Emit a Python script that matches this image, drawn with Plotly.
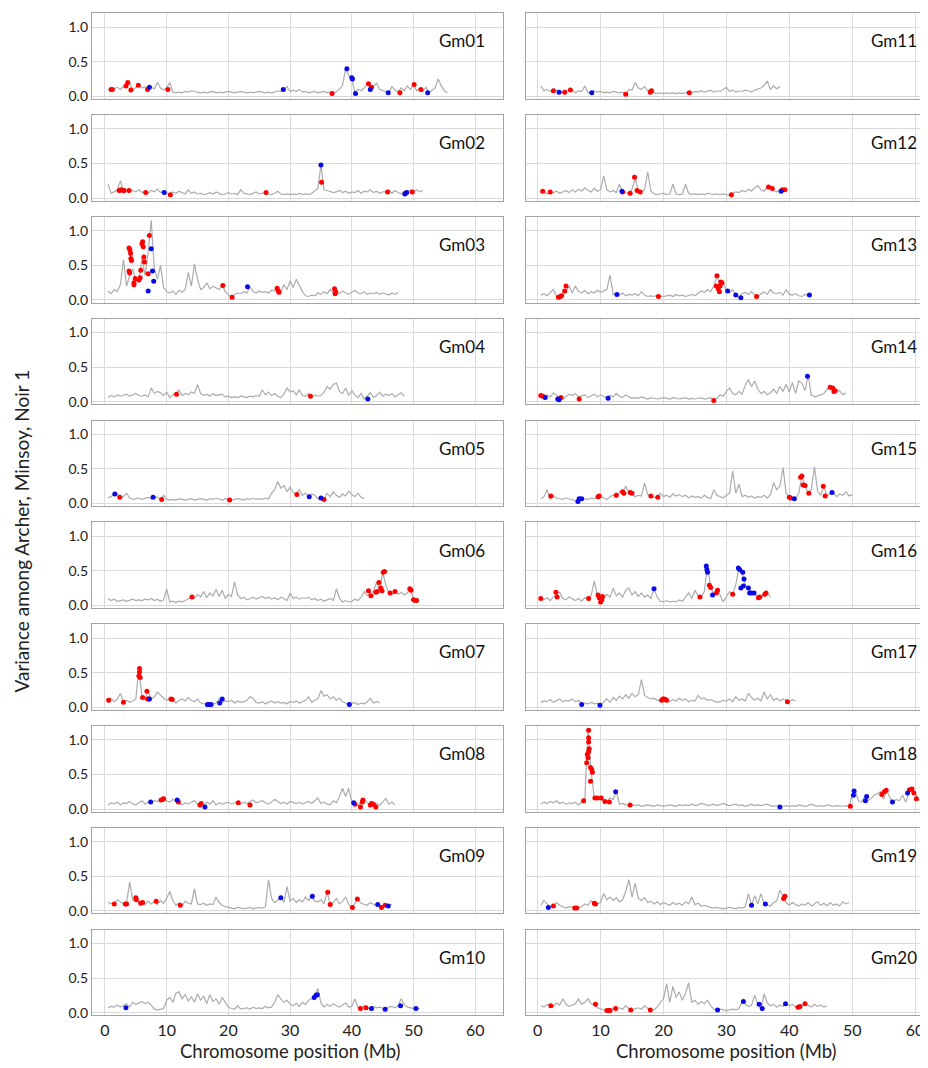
import plotly.graph_objects as go

# ---------------- data (variance values, 0.5 Mb steps starting at 0.5 Mb) ----------------
LINE_START = 0.5
LINE_STEP = 0.5
CHROMS = ["Gm01", "Gm02", "Gm03", "Gm04", "Gm05", "Gm06", "Gm07", "Gm08", "Gm09", "Gm10",
          "Gm11", "Gm12", "Gm13", "Gm14", "Gm15", "Gm16", "Gm17", "Gm18", "Gm19", "Gm20"]
X_TICKS = [0, 10, 20, 30, 40, 50, 60]
Y_TICKS = [0.0, 0.5, 1.0]
Y_TICK_TEXT = ["0.0", "0.5", "1.0"]

GM01_LINE = [0.10, 0.09, 0.11, 0.13, 0.10, 0.14, 0.16, 0.20, 0.09, 0.12,
             0.16, 0.12, 0.14, 0.10, 0.13, 0.11, 0.20, 0.12, 0.09, 0.12,
             0.20, 0.06, 0.05, 0.06, 0.05, 0.07, 0.06, 0.08, 0.07, 0.06,
             0.05, 0.06, 0.05, 0.06, 0.07, 0.05, 0.06, 0.05, 0.06, 0.07,
             0.06, 0.05, 0.06, 0.07, 0.06, 0.05, 0.06, 0.05, 0.06, 0.07,
             0.06, 0.05, 0.06, 0.05, 0.06, 0.08, 0.07, 0.10, 0.14, 0.07,
             0.09, 0.07, 0.10, 0.06, 0.07, 0.05, 0.06, 0.07, 0.05, 0.06,
             0.07, 0.05, 0.06, 0.04, 0.07, 0.10, 0.16, 0.40, 0.30, 0.26,
             0.05, 0.10, 0.08, 0.12, 0.18, 0.11, 0.14, 0.19, 0.10, 0.08,
             0.06, 0.05, 0.14, 0.09, 0.06, 0.12, 0.08, 0.15, 0.10, 0.17,
             0.08, 0.11, 0.07, 0.13, 0.05, 0.09, 0.12, 0.25, 0.15, 0.08,
             0.05]
GM01_RED = [(1.0, 0.10), (1.2, 0.10), (3.4, 0.15), (3.7, 0.20), (4.2, 0.09), (5.4, 0.16), (6.9, 0.10),
            (10.2, 0.10), (36.8, 0.04), (42.7, 0.18), (43.2, 0.13), (47.8, 0.05), (50.1, 0.17), (51.2, 0.10)]
GM01_BLUE = [(7.2, 0.13), (28.9, 0.10), (39.2, 0.40), (40.0, 0.27), (40.1, 0.25), (40.6, 0.04),
             (43.0, 0.10), (45.9, 0.05), (52.3, 0.05)]

GM02_LINE = [0.20, 0.07, 0.09, 0.12, 0.25, 0.11, 0.12, 0.10, 0.11, 0.09,
             0.12, 0.08, 0.10, 0.07, 0.11, 0.09, 0.13, 0.08, 0.10, 0.07,
             0.05, 0.09, 0.07, 0.10, 0.08, 0.06, 0.12, 0.07, 0.09, 0.06,
             0.07, 0.05, 0.06, 0.08, 0.06, 0.09, 0.07, 0.05, 0.06, 0.08,
             0.06, 0.07, 0.05, 0.12, 0.07, 0.06, 0.05, 0.07, 0.09, 0.06,
             0.07, 0.08, 0.06, 0.05, 0.07, 0.10, 0.06, 0.05, 0.06, 0.05,
             0.06, 0.05, 0.07, 0.05, 0.06, 0.05, 0.07, 0.10, 0.14, 0.48,
             0.12, 0.11, 0.10, 0.08, 0.09, 0.11, 0.08, 0.10, 0.07, 0.09,
             0.08, 0.11, 0.07, 0.10, 0.09, 0.12, 0.08, 0.10, 0.07, 0.09,
             0.09, 0.12, 0.07, 0.11, 0.08, 0.06, 0.10, 0.08, 0.12, 0.09,
             0.12, 0.09, 0.11]
GM02_RED = [(2.3, 0.11), (2.6, 0.12), (2.9, 0.11), (3.1, 0.11), (3.9, 0.11), (6.6, 0.08), (10.6, 0.05),
            (26.1, 0.08), (35.1, 0.23), (45.8, 0.09), (48.7, 0.07), (49.8, 0.09)]
GM02_BLUE = [(9.6, 0.08), (35.0, 0.48), (48.6, 0.06), (48.9, 0.08)]

GM03_LINE = [0.13, 0.09, 0.15, 0.12, 0.22, 0.58, 0.20, 0.35, 0.45, 0.28,
             0.30, 0.60, 0.35, 0.70, 1.15, 0.45, 0.30, 0.50, 0.18, 0.12,
             0.10, 0.13, 0.08, 0.14, 0.11, 0.15, 0.40, 0.20, 0.52, 0.30,
             0.15, 0.18, 0.25, 0.16, 0.20, 0.17, 0.15, 0.21, 0.12, 0.07,
             0.05, 0.08, 0.10, 0.09, 0.12, 0.10, 0.19, 0.12, 0.10, 0.13,
             0.11, 0.12, 0.10, 0.14, 0.13, 0.17, 0.12, 0.22, 0.15, 0.28,
             0.18, 0.30, 0.20, 0.12, 0.06, 0.05, 0.07, 0.06, 0.10, 0.08,
             0.12, 0.09, 0.15, 0.10, 0.12, 0.09, 0.13, 0.10, 0.08, 0.11,
             0.14, 0.10, 0.09, 0.12, 0.08, 0.10, 0.09, 0.11, 0.08, 0.10,
             0.09, 0.07, 0.10, 0.08, 0.11]
GM03_RED = [(3.9, 0.75), (4.05, 0.72), (4.2, 0.60), (4.3, 0.57), (4.15, 0.67), (3.9, 0.42), (4.0, 0.39),
            (4.7, 0.25), (4.7, 0.22), (4.9, 0.31), (5.5, 0.29), (5.7, 0.32), (5.8, 0.43), (6.0, 0.81),
            (6.1, 0.84), (6.2, 0.77), (6.3, 0.62), (6.4, 0.55), (7.0, 0.38), (7.2, 0.93),
            (19.1, 0.21), (20.6, 0.04), (27.9, 0.17), (28.1, 0.13), (28.2, 0.11), (37.2, 0.16),
            (37.3, 0.09), (37.4, 0.12)]
GM03_BLUE = [(7.5, 0.74), (7.7, 0.42), (7.9, 0.27), (7.0, 0.13), (23.1, 0.19)]

GM04_LINE = [0.06, 0.09, 0.07, 0.10, 0.08, 0.09, 0.11, 0.08, 0.10, 0.12,
             0.09, 0.08, 0.10, 0.07, 0.20, 0.12, 0.15, 0.13, 0.09, 0.14,
             0.06, 0.10, 0.12, 0.17, 0.09, 0.12, 0.10, 0.14, 0.12, 0.25,
             0.12, 0.09, 0.11, 0.08, 0.12, 0.09, 0.10, 0.11, 0.07, 0.08,
             0.06, 0.07, 0.06, 0.08, 0.07, 0.06, 0.08, 0.07, 0.09, 0.08,
             0.17, 0.10, 0.14, 0.09, 0.12, 0.08, 0.06, 0.11, 0.20, 0.14,
             0.16, 0.10, 0.17, 0.09, 0.08, 0.12, 0.07, 0.10, 0.08, 0.09,
             0.14, 0.22, 0.18, 0.25, 0.27, 0.15, 0.12, 0.20, 0.09, 0.16,
             0.10, 0.06, 0.12, 0.04, 0.08, 0.13, 0.06, 0.09, 0.14, 0.08,
             0.11, 0.09, 0.12, 0.07, 0.10, 0.13, 0.08]
GM04_RED = [(11.6, 0.11), (33.3, 0.08)]
GM04_BLUE = [(42.6, 0.04)]

GM05_LINE = [0.08, 0.10, 0.15, 0.14, 0.09, 0.10, 0.15, 0.08, 0.06, 0.07,
             0.08, 0.06, 0.07, 0.09, 0.07, 0.10, 0.09, 0.06, 0.12, 0.06,
             0.05, 0.06, 0.05, 0.07, 0.06, 0.05, 0.06, 0.07, 0.05, 0.06,
             0.07, 0.06, 0.05, 0.07, 0.06, 0.08, 0.06, 0.05, 0.07, 0.06,
             0.05, 0.06, 0.07, 0.06, 0.05, 0.07, 0.06, 0.08, 0.06, 0.07,
             0.06, 0.08, 0.07, 0.15, 0.20, 0.32, 0.22, 0.26, 0.17, 0.24,
             0.16, 0.14, 0.20, 0.12, 0.15, 0.10, 0.14, 0.12, 0.07, 0.08,
             0.06, 0.15, 0.10, 0.17, 0.12, 0.09, 0.14, 0.11, 0.18, 0.13,
             0.10, 0.15, 0.09, 0.07]
GM05_RED = [(2.4, 0.09), (9.2, 0.06), (20.2, 0.05), (31.1, 0.13), (35.5, 0.06)]
GM05_BLUE = [(1.6, 0.14), (7.8, 0.09), (33.1, 0.10), (35.0, 0.08)]

GM06_LINE = [0.10, 0.07, 0.09, 0.06, 0.07, 0.08, 0.06, 0.07, 0.09, 0.07,
             0.08, 0.07, 0.09, 0.08, 0.10, 0.07, 0.09, 0.06, 0.08, 0.24,
             0.05, 0.06, 0.04, 0.06, 0.05, 0.07, 0.09, 0.12, 0.10, 0.16,
             0.12, 0.20, 0.11, 0.18, 0.14, 0.23, 0.13, 0.22, 0.10, 0.16,
             0.13, 0.34, 0.15, 0.10, 0.12, 0.08, 0.10, 0.12, 0.09, 0.11,
             0.13, 0.10, 0.12, 0.09, 0.11, 0.08, 0.12, 0.10, 0.07, 0.18,
             0.10, 0.12, 0.09, 0.11, 0.10, 0.12, 0.08, 0.10, 0.07, 0.09,
             0.06, 0.08, 0.10, 0.07, 0.24, 0.10, 0.05, 0.07, 0.05, 0.06,
             0.09, 0.07, 0.12, 0.20, 0.14, 0.18, 0.20, 0.33, 0.22, 0.48,
             0.30, 0.18, 0.15, 0.20, 0.16, 0.19, 0.15, 0.18, 0.24, 0.08,
             0.07]
GM06_RED = [(14.1, 0.12), (42.7, 0.21), (43.1, 0.14), (43.9, 0.19), (44.1, 0.20), (44.4, 0.33),
            (44.7, 0.25), (44.9, 0.21), (45.1, 0.48), (45.3, 0.49), (46.2, 0.18), (47.0, 0.20),
            (49.4, 0.24), (49.6, 0.22), (50.0, 0.08), (50.3, 0.07), (50.5, 0.07)]
GM06_BLUE = []

GM07_LINE = [0.10, 0.13, 0.08, 0.12, 0.20, 0.08, 0.10, 0.07, 0.09, 0.12,
             0.57, 0.14, 0.12, 0.23, 0.12, 0.15, 0.22, 0.17, 0.13, 0.10,
             0.12, 0.11, 0.06, 0.10, 0.12, 0.09, 0.14, 0.10, 0.08, 0.12,
             0.06, 0.05, 0.04, 0.04, 0.05, 0.06, 0.12, 0.07, 0.09, 0.08,
             0.10, 0.06, 0.09, 0.07, 0.08, 0.10, 0.15, 0.13, 0.07, 0.06,
             0.08, 0.05, 0.07, 0.09, 0.06, 0.08, 0.06, 0.07, 0.05, 0.08,
             0.07, 0.09, 0.06, 0.08, 0.10, 0.15, 0.07, 0.10, 0.12, 0.24,
             0.16, 0.18, 0.12, 0.15, 0.10, 0.13, 0.08, 0.06, 0.04, 0.05,
             0.07, 0.04, 0.06, 0.05, 0.08, 0.13, 0.06, 0.08, 0.07]
GM07_RED = [(0.6, 0.10), (3.0, 0.07), (5.6, 0.56), (5.6, 0.51), (5.5, 0.45), (5.7, 0.43), (6.1, 0.14),
            (6.8, 0.23), (6.9, 0.12), (7.1, 0.12), (10.7, 0.12), (10.9, 0.11)]
GM07_BLUE = [(7.2, 0.12), (16.6, 0.04), (16.9, 0.04), (17.2, 0.04), (18.6, 0.06), (19.0, 0.12), (39.6, 0.04)]

GM08_LINE = [0.06, 0.09, 0.07, 0.10, 0.06, 0.09, 0.08, 0.11, 0.07, 0.06,
             0.09, 0.12, 0.07, 0.10, 0.09, 0.12, 0.11, 0.13, 0.15, 0.12,
             0.10, 0.14, 0.10, 0.08, 0.06, 0.09, 0.07, 0.10, 0.12, 0.07,
             0.08, 0.05, 0.10, 0.07, 0.12, 0.06, 0.09, 0.07, 0.08, 0.10,
             0.07, 0.09, 0.11, 0.07, 0.10, 0.08, 0.11, 0.13, 0.09, 0.10,
             0.12, 0.09, 0.07, 0.10, 0.14, 0.11, 0.08, 0.10, 0.07, 0.11,
             0.09, 0.08, 0.10, 0.07, 0.09, 0.11, 0.08, 0.12, 0.16, 0.08,
             0.10, 0.07, 0.06, 0.12, 0.09, 0.18, 0.30, 0.18, 0.30, 0.10,
             0.07, 0.05, 0.11, 0.13, 0.09, 0.07, 0.06, 0.08, 0.05, 0.10,
             0.15, 0.07, 0.10, 0.06]
GM08_RED = [(9.1, 0.13), (9.4, 0.14), (9.5, 0.15), (11.9, 0.10), (15.4, 0.06), (15.6, 0.08), (21.6, 0.09),
            (23.5, 0.06), (40.5, 0.07), (41.4, 0.03), (41.7, 0.10), (41.8, 0.13), (43.0, 0.06),
            (43.2, 0.08), (43.5, 0.07), (43.9, 0.03)]
GM08_BLUE = [(7.4, 0.10), (11.7, 0.13), (16.2, 0.03), (40.3, 0.09)]

GM09_LINE = [0.12, 0.10, 0.09, 0.16, 0.13, 0.10, 0.11, 0.42, 0.15, 0.19,
             0.11, 0.12, 0.09, 0.14, 0.10, 0.13, 0.09, 0.15, 0.11, 0.18,
             0.28, 0.15, 0.08, 0.12, 0.07, 0.14, 0.11, 0.10, 0.32, 0.10,
             0.09, 0.11, 0.08, 0.10, 0.09, 0.20, 0.12, 0.08, 0.06, 0.05,
             0.04, 0.03, 0.05, 0.04, 0.03, 0.04, 0.05, 0.03, 0.04, 0.05,
             0.04, 0.06, 0.45, 0.18, 0.12, 0.15, 0.19, 0.12, 0.35, 0.14,
             0.18, 0.12, 0.16, 0.13, 0.20, 0.15, 0.21, 0.14, 0.13, 0.16,
             0.10, 0.27, 0.09, 0.12, 0.18, 0.10, 0.14, 0.20, 0.09, 0.05,
             0.12, 0.17, 0.11, 0.10, 0.08, 0.12, 0.09, 0.07, 0.09, 0.05,
             0.08, 0.07, 0.10]
GM09_RED = [(1.5, 0.10), (3.3, 0.10), (3.5, 0.10), (5.0, 0.19), (5.1, 0.16), (5.8, 0.11), (6.1, 0.12),
            (8.3, 0.14), (12.2, 0.08), (36.1, 0.27), (36.5, 0.09), (40.1, 0.05), (40.9, 0.17),
            (44.8, 0.05), (45.4, 0.08)]
GM09_BLUE = [(28.5, 0.19), (33.6, 0.21), (44.2, 0.09), (45.9, 0.07)]

GM10_LINE = [0.07, 0.09, 0.08, 0.11, 0.08, 0.10, 0.13, 0.08, 0.15, 0.12,
             0.14, 0.16, 0.13, 0.15, 0.11, 0.05, 0.04, 0.05, 0.06, 0.18,
             0.22, 0.15, 0.28, 0.30, 0.20, 0.26, 0.17, 0.23, 0.15, 0.27,
             0.18, 0.24, 0.13, 0.26, 0.16, 0.20, 0.12, 0.22, 0.15, 0.08,
             0.06, 0.05, 0.10, 0.05, 0.06, 0.07, 0.05, 0.08, 0.06, 0.07,
             0.06, 0.09, 0.07, 0.08, 0.15, 0.26, 0.20, 0.15, 0.18, 0.12,
             0.10, 0.14, 0.09, 0.15, 0.12, 0.18, 0.20, 0.24, 0.35, 0.14,
             0.08, 0.12, 0.09, 0.13, 0.10, 0.08, 0.11, 0.14, 0.08, 0.09,
             0.20, 0.07, 0.06, 0.10, 0.07, 0.06, 0.09, 0.07, 0.08, 0.06,
             0.05, 0.08, 0.09, 0.07, 0.10, 0.20, 0.12, 0.08, 0.07, 0.06,
             0.05, 0.06]
GM10_RED = [(41.4, 0.06), (42.3, 0.07)]
GM10_BLUE = [(3.4, 0.07), (33.9, 0.22), (34.2, 0.25), (34.4, 0.26), (43.2, 0.06), (45.4, 0.05),
             (47.9, 0.10), (50.4, 0.06)]

GM11_LINE = [0.15, 0.08, 0.10, 0.07, 0.08, 0.09, 0.07, 0.06, 0.08, 0.09,
             0.10, 0.05, 0.08, 0.07, 0.15, 0.05, 0.07, 0.08, 0.06, 0.07,
             0.05, 0.06, 0.05, 0.07, 0.06, 0.05, 0.06, 0.03, 0.10, 0.09,
             0.20, 0.12, 0.10, 0.14, 0.08, 0.09, 0.05, 0.04, 0.05, 0.04,
             0.05, 0.04, 0.05, 0.04, 0.05, 0.04, 0.05, 0.06, 0.05, 0.07,
             0.06, 0.08, 0.06, 0.07, 0.09, 0.06, 0.08, 0.07, 0.10, 0.13,
             0.07, 0.09, 0.06, 0.08, 0.07, 0.09, 0.08, 0.06, 0.09, 0.10,
             0.12, 0.16, 0.22, 0.10, 0.15, 0.11, 0.14]
GM11_RED = [(2.5, 0.08), (4.3, 0.06), (5.2, 0.09), (14.0, 0.03), (17.9, 0.06), (18.1, 0.08), (24.1, 0.05)]
GM11_BLUE = [(3.4, 0.06), (8.6, 0.05)]

GM12_LINE = [0.07, 0.10, 0.06, 0.09, 0.08, 0.10, 0.07, 0.09, 0.11, 0.08,
             0.12, 0.09, 0.13, 0.10, 0.15, 0.11, 0.09, 0.14, 0.10, 0.12,
             0.32, 0.12, 0.09, 0.11, 0.08, 0.20, 0.10, 0.08, 0.07, 0.13,
             0.28, 0.11, 0.09, 0.12, 0.38, 0.10, 0.06, 0.05, 0.06, 0.07,
             0.05, 0.06, 0.20, 0.06, 0.05, 0.06, 0.20, 0.07, 0.05, 0.06,
             0.05, 0.06, 0.05, 0.07, 0.06, 0.05, 0.06, 0.05, 0.06, 0.05,
             0.04, 0.07, 0.09, 0.08, 0.11, 0.09, 0.13, 0.10, 0.15, 0.18,
             0.12, 0.10, 0.16, 0.14, 0.12, 0.09, 0.13, 0.10, 0.12]
GM12_RED = [(0.8, 0.10), (2.0, 0.09), (13.5, 0.09), (14.7, 0.07), (15.4, 0.30), (15.8, 0.11), (16.3, 0.09),
            (30.8, 0.05), (36.7, 0.16), (37.3, 0.14), (38.9, 0.12), (39.3, 0.12)]
GM12_BLUE = [(13.4, 0.10), (38.7, 0.10)]

GM13_LINE = [0.07, 0.09, 0.06, 0.10, 0.15, 0.05, 0.04, 0.06, 0.13, 0.20,
             0.10, 0.20, 0.12, 0.10, 0.14, 0.09, 0.12, 0.10, 0.14, 0.11,
             0.13, 0.15, 0.36, 0.08, 0.09, 0.07, 0.10, 0.06, 0.08, 0.07,
             0.09, 0.06, 0.12, 0.07, 0.05, 0.06, 0.05, 0.07, 0.06, 0.05,
             0.06, 0.07, 0.05, 0.08, 0.06, 0.07, 0.05, 0.06, 0.08, 0.06,
             0.10, 0.13, 0.11, 0.15, 0.12, 0.20, 0.35, 0.22, 0.26, 0.13,
             0.10, 0.15, 0.07, 0.04, 0.09, 0.11, 0.08, 0.12, 0.07, 0.05,
             0.09, 0.12, 0.08, 0.15, 0.10, 0.09, 0.11, 0.07, 0.15, 0.08,
             0.07, 0.09, 0.06, 0.05, 0.08, 0.07, 0.09]
GM13_RED = [(3.3, 0.04), (3.6, 0.05), (3.8, 0.06), (4.3, 0.13), (4.5, 0.20), (19.2, 0.05), (28.5, 0.35),
            (28.4, 0.20), (28.7, 0.16), (28.9, 0.12), (29.1, 0.26), (29.3, 0.25), (29.0, 0.20), (34.8, 0.05)]
GM13_BLUE = [(12.6, 0.08), (30.2, 0.13), (31.5, 0.07), (32.3, 0.03), (43.2, 0.07)]

GM14_LINE = [0.09, 0.08, 0.10, 0.07, 0.13, 0.09, 0.06, 0.04, 0.08, 0.11,
             0.09, 0.12, 0.07, 0.08, 0.10, 0.06, 0.09, 0.11, 0.07, 0.10,
             0.08, 0.06, 0.09, 0.07, 0.12, 0.08, 0.06, 0.10, 0.07, 0.05,
             0.06, 0.05, 0.07, 0.05, 0.04, 0.06, 0.05, 0.04, 0.05, 0.06,
             0.05, 0.04, 0.06, 0.05, 0.04, 0.05, 0.06, 0.04, 0.05, 0.04,
             0.05, 0.06, 0.04, 0.05, 0.06, 0.02, 0.05, 0.10, 0.08, 0.15,
             0.20, 0.12, 0.10, 0.15, 0.11, 0.24, 0.32, 0.22, 0.30, 0.18,
             0.12, 0.15, 0.10, 0.13, 0.18, 0.12, 0.22, 0.15, 0.25, 0.14,
             0.28, 0.12, 0.30, 0.27, 0.16, 0.38, 0.10, 0.07, 0.08, 0.10,
             0.12, 0.18, 0.21, 0.20, 0.15, 0.16, 0.10, 0.13]
GM14_RED = [(0.5, 0.09), (0.8, 0.08), (3.7, 0.06), (6.6, 0.04), (28.0, 0.02), (46.5, 0.21), (46.9, 0.20),
            (47.1, 0.15), (47.3, 0.16)]
GM14_BLUE = [(1.2, 0.06), (3.2, 0.04), (3.4, 0.03), (11.2, 0.05), (42.9, 0.37)]

GM15_LINE = [0.07, 0.10, 0.20, 0.06, 0.11, 0.08, 0.07, 0.06, 0.08, 0.07,
             0.05, 0.04, 0.03, 0.07, 0.07, 0.06, 0.08, 0.07, 0.10, 0.11,
             0.08, 0.06, 0.10, 0.12, 0.09, 0.17, 0.15, 0.25, 0.16, 0.15,
             0.10, 0.12, 0.11, 0.30, 0.13, 0.11, 0.09, 0.09, 0.15, 0.10,
             0.12, 0.09, 0.14, 0.11, 0.13, 0.10, 0.12, 0.08, 0.11, 0.09,
             0.10, 0.08, 0.12, 0.09, 0.07, 0.20, 0.12, 0.10, 0.08, 0.12,
             0.15, 0.47, 0.15, 0.28, 0.10, 0.12, 0.09, 0.11, 0.08, 0.10,
             0.09, 0.12, 0.08, 0.13, 0.30, 0.20, 0.25, 0.52, 0.15, 0.09,
             0.08, 0.07, 0.15, 0.40, 0.26, 0.15, 0.20, 0.53, 0.18, 0.12,
             0.25, 0.11, 0.15, 0.16, 0.10, 0.14, 0.12, 0.17, 0.11, 0.13]
GM15_RED = [(2.1, 0.11), (9.6, 0.10), (9.8, 0.11), (12.5, 0.12), (13.5, 0.17), (13.7, 0.15), (14.7, 0.16),
            (15.0, 0.15), (18.0, 0.11), (19.1, 0.09), (40.0, 0.09), (40.2, 0.08), (41.8, 0.38),
            (42.0, 0.40), (42.2, 0.27), (42.5, 0.26), (43.1, 0.15), (45.4, 0.25), (45.7, 0.11)]
GM15_BLUE = [(6.4, 0.03), (6.6, 0.07), (7.0, 0.07), (40.8, 0.07), (46.8, 0.16)]

GM16_LINE = [0.10, 0.08, 0.11, 0.07, 0.12, 0.15, 0.19, 0.10, 0.08, 0.12,
             0.09, 0.07, 0.10, 0.06, 0.11, 0.10, 0.14, 0.35, 0.15, 0.12,
             0.10, 0.16, 0.12, 0.25, 0.14, 0.18, 0.12, 0.22, 0.25, 0.15,
             0.20, 0.13, 0.18, 0.12, 0.15, 0.10, 0.24, 0.12, 0.06, 0.05,
             0.07, 0.05, 0.06, 0.05, 0.08, 0.06, 0.12, 0.18, 0.10, 0.22,
             0.14, 0.12, 0.20, 0.57, 0.27, 0.15, 0.22, 0.15, 0.05, 0.12,
             0.20, 0.16, 0.30, 0.54, 0.48, 0.30, 0.25, 0.18, 0.18, 0.11,
             0.10, 0.16, 0.18, 0.12]
GM16_RED = [(0.5, 0.10), (2.9, 0.19), (3.1, 0.12), (8.1, 0.10), (9.6, 0.15), (9.8, 0.11), (10.0, 0.05),
            (10.2, 0.08), (10.3, 0.13), (25.8, 0.12), (27.3, 0.29), (27.5, 0.26), (28.4, 0.18),
            (28.6, 0.22), (31.0, 0.16), (35.1, 0.11), (35.3, 0.12), (36.1, 0.16), (36.3, 0.18)]
GM16_BLUE = [(18.5, 0.24), (26.8, 0.57), (26.9, 0.52), (27.0, 0.48), (27.8, 0.15), (31.9, 0.54),
             (32.1, 0.52), (32.6, 0.48), (32.8, 0.38), (32.7, 0.28), (32.3, 0.25), (33.5, 0.25),
             (33.7, 0.18), (34.0, 0.18), (34.4, 0.18)]

GM17_LINE = [0.07, 0.09, 0.08, 0.11, 0.07, 0.10, 0.12, 0.08, 0.10, 0.09,
             0.12, 0.08, 0.10, 0.04, 0.06, 0.05, 0.07, 0.05, 0.06, 0.03,
             0.08, 0.12, 0.07, 0.14, 0.10, 0.16, 0.12, 0.18, 0.13, 0.20,
             0.15, 0.18, 0.40, 0.17, 0.14, 0.12, 0.13, 0.10, 0.10, 0.11,
             0.10, 0.08, 0.11, 0.09, 0.13, 0.10, 0.12, 0.08, 0.10, 0.09,
             0.17, 0.12, 0.13, 0.10, 0.11, 0.09, 0.07, 0.08, 0.10, 0.09,
             0.12, 0.08, 0.15, 0.10, 0.12, 0.09, 0.20, 0.14, 0.10, 0.13,
             0.09, 0.22, 0.12, 0.18, 0.10, 0.13, 0.09, 0.12, 0.10, 0.08,
             0.11, 0.09]
GM17_RED = [(19.7, 0.10), (19.9, 0.12), (20.1, 0.12), (20.3, 0.11), (20.5, 0.10), (39.7, 0.08)]
GM17_BLUE = [(7.0, 0.04), (9.9, 0.03)]

GM18_LINE = [0.07, 0.10, 0.08, 0.11, 0.09, 0.12, 0.08, 0.10, 0.07, 0.09,
             0.08, 0.10, 0.06, 0.10, 0.14, 1.15, 0.55, 0.16, 0.15, 0.16,
             0.11, 0.10, 0.16, 0.14, 0.25, 0.07, 0.08, 0.06, 0.05, 0.06,
             0.05, 0.06, 0.04, 0.05, 0.06, 0.05, 0.04, 0.06, 0.05, 0.04,
             0.05, 0.06, 0.05, 0.04, 0.06, 0.05, 0.06, 0.05, 0.07, 0.05,
             0.06, 0.08, 0.07, 0.05, 0.06, 0.07, 0.05, 0.06, 0.08, 0.06,
             0.05, 0.06, 0.07, 0.05, 0.06, 0.04, 0.05, 0.07, 0.05, 0.06,
             0.05, 0.06, 0.07, 0.05, 0.04, 0.05, 0.03, 0.04, 0.05, 0.04,
             0.05, 0.04, 0.06, 0.05, 0.04, 0.05, 0.07, 0.05, 0.04, 0.05,
             0.04, 0.06, 0.05, 0.04, 0.05, 0.04, 0.04, 0.05, 0.04, 0.20,
             0.26, 0.12, 0.10, 0.18, 0.12, 0.15, 0.20, 0.22, 0.25, 0.14,
             0.27, 0.16, 0.10, 0.14, 0.12, 0.20, 0.10, 0.23, 0.28, 0.23,
             0.15, 0.10, 0.07]
GM18_RED = [(8.1, 1.14), (8.1, 1.03), (8.1, 0.97), (8.2, 0.87), (8.1, 0.83), (7.9, 0.79), (8.0, 0.74),
            (7.8, 0.67), (8.4, 0.60), (8.6, 0.57), (8.7, 0.53), (8.4, 0.40), (7.3, 0.12), (9.1, 0.16),
            (9.5, 0.16), (10.1, 0.16), (10.7, 0.11), (11.4, 0.10), (14.7, 0.06), (49.7, 0.04),
            (54.7, 0.21), (55.1, 0.25), (55.4, 0.27), (59.1, 0.28), (59.5, 0.29), (59.8, 0.23), (60.2, 0.15)]
GM18_BLUE = [(12.4, 0.25), (38.5, 0.03), (50.3, 0.26), (50.2, 0.20), (52.3, 0.18), (52.1, 0.12),
             (56.4, 0.10), (58.8, 0.23)]

GM19_LINE = [0.08, 0.15, 0.10, 0.06, 0.07, 0.12, 0.08, 0.06, 0.04, 0.06,
             0.05, 0.04, 0.05, 0.06, 0.10, 0.08, 0.15, 0.11, 0.10, 0.12,
             0.25, 0.16, 0.20, 0.15, 0.19, 0.13, 0.16, 0.28, 0.45, 0.20,
             0.40, 0.18, 0.15, 0.19, 0.12, 0.14, 0.10, 0.13, 0.09, 0.12,
             0.10, 0.08, 0.12, 0.09, 0.11, 0.08, 0.13, 0.10, 0.20, 0.09,
             0.11, 0.07, 0.08, 0.06, 0.05, 0.04, 0.05, 0.04, 0.03, 0.04,
             0.05, 0.04, 0.03, 0.05, 0.04, 0.06, 0.25, 0.08, 0.22, 0.10,
             0.25, 0.10, 0.08, 0.07, 0.12, 0.14, 0.30, 0.20, 0.12, 0.08,
             0.12, 0.09, 0.07, 0.10, 0.08, 0.12, 0.07, 0.10, 0.13, 0.08,
             0.11, 0.07, 0.12, 0.08, 0.10, 0.07, 0.13, 0.10, 0.12]
GM19_RED = [(2.5, 0.07), (5.9, 0.04), (6.2, 0.04), (9.0, 0.11), (9.2, 0.10), (39.1, 0.18), (39.3, 0.21)]
GM19_BLUE = [(1.7, 0.05), (34.0, 0.08), (36.2, 0.10)]

GM20_LINE = [0.10, 0.08, 0.12, 0.10, 0.09, 0.14, 0.11, 0.20, 0.12, 0.09,
             0.11, 0.13, 0.20, 0.12, 0.15, 0.20, 0.13, 0.12, 0.07, 0.05,
             0.04, 0.03, 0.03, 0.06, 0.05, 0.07, 0.05, 0.10, 0.06, 0.04,
             0.05, 0.07, 0.05, 0.10, 0.06, 0.05, 0.04, 0.08, 0.15, 0.20,
             0.42, 0.15, 0.38, 0.22, 0.30, 0.18, 0.28, 0.43, 0.15, 0.18,
             0.12, 0.16, 0.13, 0.18, 0.10, 0.05, 0.04, 0.05, 0.04, 0.03,
             0.04, 0.05, 0.04, 0.06, 0.16, 0.12, 0.09, 0.11, 0.25, 0.12,
             0.06, 0.27, 0.14, 0.10, 0.12, 0.08, 0.11, 0.09, 0.13, 0.10,
             0.12, 0.08, 0.09, 0.11, 0.13, 0.10, 0.08, 0.12, 0.09, 0.11,
             0.08, 0.10]
GM20_RED = [(2.1, 0.10), (9.2, 0.12), (11.0, 0.03), (11.3, 0.03), (11.5, 0.03), (12.4, 0.06), (14.8, 0.04),
            (17.9, 0.04), (41.4, 0.08), (41.7, 0.09), (42.5, 0.13)]
GM20_BLUE = [(28.6, 0.04), (32.7, 0.16), (35.2, 0.12), (35.7, 0.06), (39.4, 0.13)]

LINES = [GM01_LINE, GM02_LINE, GM03_LINE, GM04_LINE, GM05_LINE, GM06_LINE, GM07_LINE, GM08_LINE,
         GM09_LINE, GM10_LINE, GM11_LINE, GM12_LINE, GM13_LINE, GM14_LINE, GM15_LINE, GM16_LINE,
         GM17_LINE, GM18_LINE, GM19_LINE, GM20_LINE]
REDS = [GM01_RED, GM02_RED, GM03_RED, GM04_RED, GM05_RED, GM06_RED, GM07_RED, GM08_RED, GM09_RED,
        GM10_RED, GM11_RED, GM12_RED, GM13_RED, GM14_RED, GM15_RED, GM16_RED, GM17_RED, GM18_RED,
        GM19_RED, GM20_RED]
BLUES = [GM01_BLUE, GM02_BLUE, GM03_BLUE, GM04_BLUE, GM05_BLUE, GM06_BLUE, GM07_BLUE, GM08_BLUE,
         GM09_BLUE, GM10_BLUE, GM11_BLUE, GM12_BLUE, GM13_BLUE, GM14_BLUE, GM15_BLUE, GM16_BLUE,
         GM17_BLUE, GM18_BLUE, GM19_BLUE, GM20_BLUE]

# ---------------- layout geometry (pixels; the page body adds an 8px offset) ----------------
OFF = 8.0
W, H = 920, 1060
FONT = "Lato, 'Open Sans', sans-serif"
COL_X = [(92.0 - OFF, 503.0 - OFF), (525.7 - OFF, 928.0 - OFF)]
COL_RANGE = [(-2.1, 64.5), (-1.9, 62.05)]
LABEL_X = [61.9, 60.6]
PANEL_TOP0 = 13.3 - OFF
PANEL_STEP = 102.3
PANEL_H = 86.0
Y_RANGE = (-0.037, 1.20)

GRID = "#dadada"
FRAME = "#a3a3a3"
LINE_COLOR = "#acacac"
RED = "#ff0000"
BLUE = "#0a0ae6"

fig = go.Figure()
layout = dict(
    width=W, height=H, margin=dict(l=0, r=0, t=0, b=0),
    paper_bgcolor="white", plot_bgcolor="white", showlegend=False,
    font=dict(family=FONT, color="#222222"),
)
annotations = []

for i, name in enumerate(CHROMS):
    col, row = divmod(i, 10)
    n = i + 1
    xa = "x" if n == 1 else f"x{n}"
    ya = "y" if n == 1 else f"y{n}"
    vals = LINES[i]
    xs = [LINE_START + LINE_STEP * k for k in range(len(vals))]
    fig.add_trace(go.Scatter(x=xs, y=vals, mode="lines", xaxis=xa, yaxis=ya,
                             line=dict(color=LINE_COLOR, width=1.2), hoverinfo="skip"))
    if REDS[i]:
        fig.add_trace(go.Scatter(x=[p[0] for p in REDS[i]], y=[p[1] for p in REDS[i]], mode="markers",
                                 xaxis=xa, yaxis=ya, marker=dict(color=RED, size=5, line=dict(width=0))))
    if BLUES[i]:
        fig.add_trace(go.Scatter(x=[p[0] for p in BLUES[i]], y=[p[1] for p in BLUES[i]], mode="markers",
                                 xaxis=xa, yaxis=ya, marker=dict(color=BLUE, size=5, line=dict(width=0))))

    top = PANEL_TOP0 + PANEL_STEP * row
    bot = top + PANEL_H
    x0, x1 = COL_X[col]
    bottom_row = row == 9
    layout[f"xaxis{n if n > 1 else ''}"] = dict(
        domain=[x0 / W, x1 / W], anchor=ya, range=list(COL_RANGE[col]),
        tickvals=X_TICKS, showticklabels=bottom_row, ticks="", ticklen=0,
        tickfont=dict(size=16, color="#222222", family=FONT),
        showgrid=True, gridcolor=GRID, gridwidth=1, zeroline=False,
        showline=True, linecolor=FRAME, linewidth=1.3, mirror=True,
        fixedrange=True,
    )
    layout[f"yaxis{n if n > 1 else ''}"] = dict(
        domain=[1 - bot / H, 1 - top / H], anchor=xa, range=list(Y_RANGE),
        tickvals=Y_TICKS, ticktext=Y_TICK_TEXT, showticklabels=(col == 0), ticks="",
        tickfont=dict(size=14, color="#222222", family=FONT),
        showgrid=True, gridcolor=GRID, gridwidth=1, zeroline=False,
        showline=True, linecolor=FRAME, linewidth=1.3, mirror=(col == 0),
        fixedrange=True,
    )
    annotations.append(dict(text=name, xref=xa, yref=ya, x=LABEL_X[col], y=0.80,
                            xanchor="right", yanchor="middle", showarrow=False,
                            font=dict(size=17, color="#111111", family=FONT)))

for col in range(2):
    x_center_px = COL_X[col][0] + (30 - COL_RANGE[col][0]) / (COL_RANGE[col][1] - COL_RANGE[col][0]) * (COL_X[col][1] - COL_X[col][0])
    annotations.append(dict(text="Chromosome position (Mb)", xref="paper", yref="paper",
                            x=x_center_px / W, y=0.0, xanchor="center", yanchor="bottom",
                            borderpad=0, showarrow=False,
                            font=dict(size=18.5, color="#222222", family=FONT)))

annotations.append(dict(text="Variance among Archer, Minsoy, Noir 1", xref="paper", yref="paper",
                        x=(22 - OFF) / W, y=1 - (534 - OFF) / H, xanchor="center", yanchor="middle",
                        textangle=-90, showarrow=False, font=dict(size=19, color="#222222", family=FONT)))

layout["annotations"] = annotations
fig.update_layout(**layout)
fig.write_html("out.html")
